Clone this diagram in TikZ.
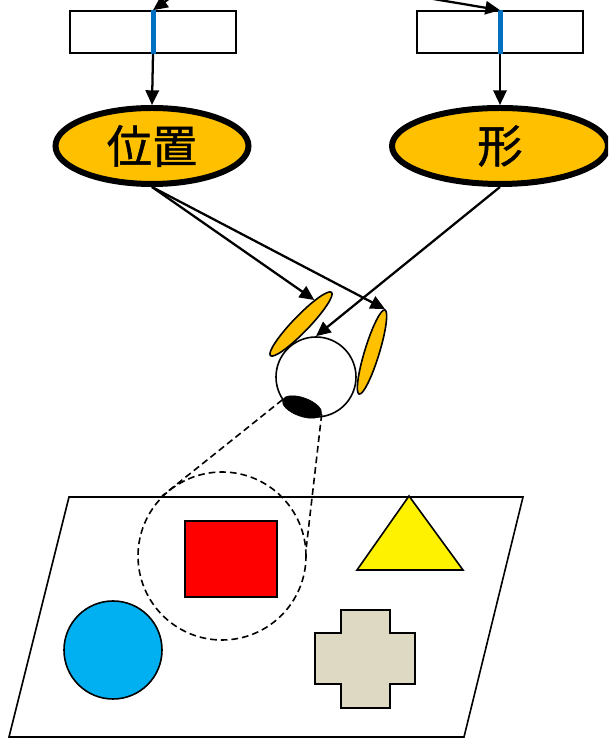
\documentclass[tikz,border=0pt]{standalone}
\usepackage{fontspec}
\newfontfamily\cjk[FakeBold=1]{Noto Sans CJK JP}
\usetikzlibrary{arrows.meta, shapes.geometric, positioning}
\definecolor{naranja}{HTML}{FFC000}
\definecolor{azulbarra}{HTML}{0070C0}
\definecolor{celeste}{HTML}{00B0F0}
\definecolor{beige}{HTML}{DDD9C3}

\begin{document}
\begin{tikzpicture}[x=0.75pt, y=0.75pt,
  caja/.style={draw, line width=1.2pt, fill=white, minimum width=124.5pt, minimum height=31.5pt, inner sep=0pt},
  rasgo/.style={ellipse, draw, line width=4.5pt, fill=naranja, minimum height=57pt, inner sep=0pt,
    font=\cjk\fontsize{34}{38}\selectfont},
  hoja/.style={ellipse, draw, line width=1.2pt, fill=naranja, minimum width=66pt, minimum height=12pt, inner sep=0pt},
  flecha/.style={line width=1.7pt, -{Triangle[length=11pt,width=10pt]}},
  rayo/.style={line width=1.2pt, dash pattern=on 5pt off 3pt}]
\clip (0,0) rectangle (608,738);
% Cajas de arriba con su barra azul
\node[caja] (cajaL) at (153,706) {};
\node[caja] (cajaR) at (500,706) {};
\draw[azulbarra, line width=3.75pt] (cajaL.north) -- (cajaL.south);
\draw[azulbarra, line width=3.75pt] (cajaR.north) -- (cajaR.south);
\coordinate (entradaL) at (213,771);
\coordinate (entradaR) at (350,753);
\draw[flecha] (entradaL) -- (cajaL.north);
\draw[flecha] (entradaR) -- (cajaR.north);
% Elipses: posicion y forma
\node[rasgo, minimum width=144.75pt] (posicion) at (152,592) {位置};
\node[rasgo, minimum width=162pt] (forma) at (500,592) {形};
\draw[flecha] (cajaL.south) -- (posicion.north);
\draw[flecha] (cajaR.south) -- (forma.north);
% El ojo
\node[circle, draw, line width=1.2pt, fill=white, minimum size=60pt, inner sep=0pt] (ojo) at (316,361) {};
\node[hoja, rotate=46] (hojaL) at (301,414) {};
\node[hoja, rotate=73, minimum height=11pt] (hojaR) at (372,386) {};
\node[ellipse, draw, fill=black, minimum width=31pt, minimum height=14pt, inner sep=0pt, rotate=-20] (pupila) at (302,331) {};
\draw[flecha] (posicion.south) -- (hojaL.15);
\draw[flecha] (posicion.south) -- (hojaR.east);
\draw[flecha] (forma.south) -- (ojo.north);
% Plano con las figuras
\draw[line width=1.2pt] (69,241) -- (523,241) -- (464,1) -- (9,1) -- cycle;
\draw[line width=1.2pt, fill=red] (185,141) rectangle (277,217);
\draw[line width=1.2pt, fill=yellow] (409,242) -- (463,168) -- (357,168) -- cycle;
\draw[line width=1.2pt, fill=celeste] (113,88) circle (49);
\draw[line width=1.2pt, fill=beige] (341,128) -- (390,128) -- (390,105) -- (415,105) -- (415,54) -- (390,54)
  -- (390,30) -- (341,30) -- (341,54) -- (315,54) -- (315,105) -- (341,105) -- cycle;
% Zona que mira el ojo
\node[circle, draw, rayo, minimum size=126pt, inner sep=0pt] (foco) at (222,182) {};
\draw[rayo] (pupila.west) -- (foco.135);
\draw[rayo] (pupila.east) -- (foco.6);
\end{tikzpicture}
\end{document}
